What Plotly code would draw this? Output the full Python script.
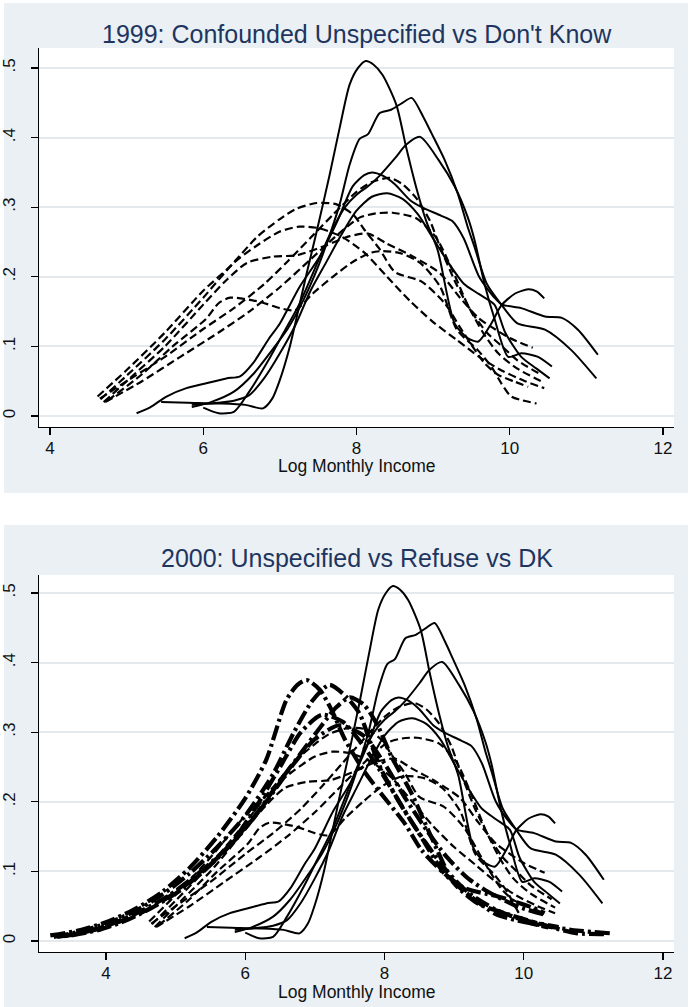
import plotly.graph_objects as go

# ---------------- data ----------------
# Unspecified (solid) density curves, shared by both panels
uns1_x = [5.45, 5.8, 6.2, 6.55, 6.78, 6.9, 7.0, 7.13, 7.24, 7.35, 7.48, 7.65, 7.78, 7.91, 8.02, 8.12, 8.22, 8.34, 8.52, 8.65, 8.78, 8.91, 9.06, 9.28, 9.45, 9.59, 9.76, 9.89, 10.07, 10.24, 10.35, 10.45]
uns1_y = [0.02, 0.019, 0.018, 0.016, 0.011, 0.025, 0.052, 0.1, 0.152, 0.205, 0.265, 0.347, 0.414, 0.476, 0.5, 0.51, 0.505, 0.49, 0.447, 0.385, 0.328, 0.28, 0.238, 0.133, 0.112, 0.107, 0.133, 0.159, 0.176, 0.182, 0.179, 0.169]
uns2_x = [5.85, 6.1, 6.4, 6.65, 6.9, 7.1, 7.3, 7.5, 7.65, 7.78, 7.91, 8.04, 8.15, 8.3, 8.45, 8.6, 8.72, 8.87, 8.98, 9.15, 9.32, 9.45, 9.54, 9.7, 9.89, 10.1, 10.46, 10.8, 11.13]
uns2_y = [0.013, 0.02, 0.035, 0.06, 0.095, 0.125, 0.165, 0.215, 0.26, 0.304, 0.361, 0.398, 0.405, 0.435, 0.44, 0.45, 0.457, 0.43, 0.406, 0.368, 0.32, 0.272, 0.243, 0.19, 0.16, 0.133, 0.124, 0.095, 0.054]
uns3_x = [6.0, 6.2, 6.4, 6.6, 6.85, 7.05, 7.25, 7.45, 7.65, 7.85, 8.0, 8.15, 8.3, 8.5, 8.65, 8.83, 9.07, 9.28, 9.45, 9.54, 9.67, 9.8, 9.98, 10.15, 10.37, 10.55]
uns3_y = [0.012, 0.004, 0.006, 0.035, 0.08, 0.12, 0.16, 0.21, 0.26, 0.3, 0.318, 0.33, 0.345, 0.37, 0.39, 0.401, 0.368, 0.33, 0.286, 0.253, 0.19, 0.14, 0.085, 0.09, 0.085, 0.071]
uns4_x = [5.13, 5.3, 5.52, 5.78, 6.04, 6.3, 6.48, 6.65, 6.85, 7.0, 7.26, 7.52, 7.75, 7.95, 8.1, 8.2, 8.35, 8.5, 8.7, 8.85, 9.1, 9.25, 9.4, 9.6, 9.8, 9.9, 10.15, 10.46, 10.68, 10.89, 11.15]
uns4_y = [0.004, 0.012, 0.028, 0.04, 0.047, 0.054, 0.057, 0.076, 0.11, 0.133, 0.186, 0.229, 0.28, 0.33, 0.346, 0.35, 0.345, 0.333, 0.31, 0.3, 0.288, 0.28, 0.255, 0.2, 0.17, 0.16, 0.155, 0.143, 0.141, 0.124, 0.088]
uns5_x = [5.85, 6.1, 6.4, 6.6, 6.8, 7.0, 7.2, 7.4, 7.6, 7.8, 8.0, 8.2, 8.4, 8.6, 8.8, 9.0, 9.2, 9.4, 9.6, 9.8, 9.94, 10.15, 10.35, 10.52]
uns5_y = [0.016, 0.018, 0.022, 0.03, 0.055, 0.09, 0.13, 0.18, 0.22, 0.26, 0.295, 0.315, 0.32, 0.312, 0.29, 0.255, 0.22, 0.19, 0.175, 0.16, 0.12, 0.085, 0.068, 0.054]

# Don't Know (dashed) density curves, shared by both panels
dk1_x = [4.62, 5.0, 5.5, 6.0, 6.35, 6.7, 7.0, 7.2, 7.48, 7.74, 7.96, 8.1, 8.3, 8.5, 8.85, 9.15, 9.37, 9.67, 9.85, 10.05, 10.24]
dk1_y = [0.028, 0.066, 0.12, 0.18, 0.215, 0.257, 0.283, 0.297, 0.306, 0.304, 0.289, 0.268, 0.24, 0.207, 0.193, 0.162, 0.124, 0.076, 0.059, 0.05, 0.042]
dk2_x = [4.7, 5.1, 5.5, 6.0, 6.3, 6.57, 6.91, 7.22, 7.6, 7.9, 8.15, 8.39, 8.74, 9.09, 9.35, 9.6, 9.76, 10.0, 10.3]
dk2_y = [0.02, 0.06, 0.1, 0.16, 0.195, 0.22, 0.229, 0.231, 0.245, 0.258, 0.262, 0.248, 0.229, 0.205, 0.17, 0.14, 0.128, 0.112, 0.098]
dk3_x = [4.75, 5.2, 5.6, 6.04, 6.2, 6.35, 6.74, 7.0, 7.2, 7.43, 7.69, 7.96, 8.2, 8.35, 8.57, 8.83, 9.09, 9.31, 9.58, 9.76, 9.89, 10.02, 10.35]
dk3_y = [0.022, 0.06, 0.1, 0.14, 0.162, 0.17, 0.164, 0.155, 0.152, 0.176, 0.2, 0.222, 0.235, 0.237, 0.234, 0.22, 0.186, 0.124, 0.095, 0.071, 0.047, 0.028, 0.018]
dk4_x = [4.65, 5.0, 5.5, 6.0, 6.4, 6.8, 7.1, 7.4, 7.7, 8.0, 8.2, 8.43, 8.6, 8.78, 8.96, 9.09, 9.3, 9.5, 9.7, 9.9, 10.1, 10.4]
dk4_y = [0.025, 0.05, 0.085, 0.125, 0.155, 0.19, 0.222, 0.256, 0.29, 0.322, 0.336, 0.342, 0.333, 0.313, 0.28, 0.243, 0.19, 0.15, 0.12, 0.1, 0.08, 0.06]
dk5_x = [4.72, 5.2, 5.7, 6.2, 6.6, 7.0, 7.4, 7.8, 8.04, 8.25, 8.47, 8.78, 9.04, 9.25, 9.45, 9.65, 9.85, 10.1, 10.45]
dk5_y = [0.02, 0.05, 0.085, 0.12, 0.15, 0.185, 0.225, 0.265, 0.285, 0.291, 0.292, 0.284, 0.256, 0.21, 0.16, 0.12, 0.09, 0.068, 0.048]
dk6_x = [4.66, 5.0, 5.5, 6.0, 6.4, 6.7, 7.0, 7.25, 7.5, 7.8, 8.1, 8.4, 8.7, 9.0, 9.3, 9.6, 9.9, 10.2, 10.45]
dk6_y = [0.024, 0.058, 0.11, 0.17, 0.22, 0.245, 0.265, 0.272, 0.27, 0.258, 0.235, 0.2, 0.165, 0.135, 0.11, 0.085, 0.065, 0.05, 0.04]

# Refuse (thick dash-dot) density curves, 2000 panel only
ref1_x = [3.2, 3.6, 4.0, 4.4, 4.8, 5.2, 5.6, 6.0, 6.3, 6.59, 6.75, 6.88, 7.07, 7.25, 7.43, 7.7, 7.91, 8.29, 8.53, 8.86, 9.15, 9.63, 10.1, 10.3]
ref1_y = [0.008, 0.015, 0.027, 0.045, 0.07, 0.105, 0.15, 0.205, 0.26, 0.346, 0.368, 0.375, 0.361, 0.33, 0.29, 0.245, 0.217, 0.169, 0.131, 0.097, 0.076, 0.064, 0.049, 0.04]
ref2_x = [3.25, 3.6, 4.0, 4.4, 4.8, 5.2, 5.6, 6.0, 6.4, 6.7, 6.97, 7.21, 7.45, 7.64, 7.8, 7.96, 8.2, 8.53, 8.86, 9.25, 9.59, 9.92, 10.3, 10.77, 11.26]
ref2_y = [0.006, 0.013, 0.025, 0.042, 0.066, 0.097, 0.135, 0.18, 0.24, 0.3, 0.346, 0.368, 0.351, 0.327, 0.285, 0.245, 0.202, 0.149, 0.097, 0.063, 0.039, 0.029, 0.022, 0.015, 0.011]
ref3_x = [3.3, 3.7, 4.1, 4.5, 4.9, 5.3, 5.7, 6.1, 6.5, 6.8, 7.1, 7.3, 7.5, 7.7, 7.9, 8.1, 8.39, 8.67, 9.0, 9.34, 9.82, 10.39, 10.77, 11.2]
ref3_y = [0.006, 0.013, 0.025, 0.043, 0.065, 0.095, 0.13, 0.175, 0.23, 0.27, 0.31, 0.335, 0.35, 0.34, 0.31, 0.265, 0.212, 0.15, 0.083, 0.054, 0.037, 0.02, 0.011, 0.01]
ref4_x = [3.4, 3.8, 4.2, 4.6, 5.0, 5.4, 5.8, 6.2, 6.5, 6.8, 7.1, 7.4, 7.7, 8.0, 8.3, 8.6, 8.9, 9.2, 9.6, 10.0, 10.5]
ref4_y = [0.007, 0.015, 0.028, 0.045, 0.07, 0.1, 0.14, 0.2, 0.25, 0.3, 0.325, 0.315, 0.28, 0.235, 0.185, 0.14, 0.1, 0.07, 0.045, 0.03, 0.02]
ref5_x = [3.5, 3.9, 4.3, 4.7, 5.1, 5.5, 5.9, 6.3, 6.7, 7.0, 7.35, 7.7, 8.0, 8.3, 8.6, 8.9, 9.2, 9.5, 9.9, 10.3]
ref5_y = [0.008, 0.016, 0.03, 0.05, 0.075, 0.11, 0.15, 0.2, 0.255, 0.29, 0.31, 0.295, 0.255, 0.205, 0.16, 0.12, 0.09, 0.07, 0.05, 0.038]

x_ticks = [4, 6, 8, 10, 12]
y_ticks = [0, 0.1, 0.2, 0.3, 0.4, 0.5]
y_tick_text = ["0", ".1", ".2", ".3", ".4", ".5"]
title_1999 = "1999: Confounded Unspecified vs Don't Know"
title_2000 = "2000: Unspecified vs Refuse vs DK"
x_title = "Log Monthly Income"

# ---------------- styling ----------------
FONT = "Liberation Sans, Arial, Helvetica, sans-serif"
BG = "#EAF0F3"
TITLE_COLOR = "#1E3560"
GRID = "#E3E9EC"

unspecified = [(uns1_x, uns1_y), (uns2_x, uns2_y), (uns3_x, uns3_y), (uns4_x, uns4_y), (uns5_x, uns5_y)]
dontknow = [(dk1_x, dk1_y), (dk2_x, dk2_y), (dk3_x, dk3_y), (dk4_x, dk4_y), (dk5_x, dk5_y), (dk6_x, dk6_y)]
refuse = [(ref1_x, ref1_y), (ref2_x, ref2_y), (ref3_x, ref3_y), (ref4_x, ref4_y), (ref5_x, ref5_y)]

solid_line = dict(color="black", width=2, shape="spline", smoothing=0.7)
dash_line = dict(color="black", width=2.2, dash="8px,4px", shape="spline", smoothing=0.7)
dashdot_line = dict(color="black", width=4.2, dash="15px,4px,3px,4px", shape="spline", smoothing=0.7)

fig = go.Figure()


def add_group(curves, line, xa, ya):
    for cx, cy in curves:
        fig.add_trace(go.Scatter(x=cx, y=cy, mode="lines", line=line,
                                 xaxis=xa, yaxis=ya, hoverinfo="skip",
                                 showlegend=False))


add_group(unspecified, solid_line, "x", "y")
add_group(dontknow, dash_line, "x", "y")
add_group(unspecified, solid_line, "x2", "y2")
add_group(dontknow, dash_line, "x2", "y2")
add_group(refuse, dashdot_line, "x2", "y2")

W, H = 691, 1007
ML, MR, MT, MB = 39, 17, 48, 55
PW, PH = W - ML - MR, H - MT - MB


def px2paper_x(px):
    return (px - ML) / PW


def px2paper_y(py):
    return (H - MB - py) / PH


top_dom = [px2paper_y(427), 1.0]
bot_dom = [0.0, px2paper_y(575)]

axis_common = dict(showline=True, linecolor="black", linewidth=1.3,
                   ticks="outside", ticklen=7, tickwidth=1.3, tickcolor="black",
                   zeroline=False, automargin=False,
                   tickfont=dict(family=FONT, size=17, color="#111"))

xcommon = dict(axis_common, tickvals=x_ticks, showgrid=False, ticklabelstandoff=-2)
ycommon = dict(axis_common, tickvals=y_ticks, ticktext=y_tick_text, tickangle=-90,
               showgrid=True, gridcolor=GRID, gridwidth=2, ticklabelstandoff=9)

shapes = [
    dict(type="rect", xref="paper", yref="paper", layer="below",
         x0=px2paper_x(4), x1=px2paper_x(688), y0=px2paper_y(493), y1=px2paper_y(3),
         fillcolor=BG, line=dict(width=0)),
    dict(type="rect", xref="paper", yref="paper", layer="below",
         x0=px2paper_x(4), x1=px2paper_x(688), y0=px2paper_y(1010), y1=px2paper_y(525),
         fillcolor=BG, line=dict(width=0)),
    dict(type="rect", xref="paper", yref="paper", layer="below",
         x0=0, x1=1, y0=top_dom[0], y1=top_dom[1],
         fillcolor="white", line=dict(width=0)),
    dict(type="rect", xref="paper", yref="paper", layer="below",
         x0=0, x1=1, y0=bot_dom[0], y1=bot_dom[1],
         fillcolor="white", line=dict(width=0)),
]

annotations = [
    dict(text=title_1999, xref="paper", yref="paper", x=0.5, y=px2paper_y(34),
         xanchor="center", yanchor="middle", showarrow=False,
         font=dict(family=FONT, size=25, color=TITLE_COLOR)),
    dict(text=title_2000, xref="paper", yref="paper", x=0.5, y=px2paper_y(558),
         xanchor="center", yanchor="middle", showarrow=False,
         font=dict(family=FONT, size=25, color=TITLE_COLOR)),
    dict(text=x_title, xref="paper", yref="paper", x=0.5, y=px2paper_y(466),
         xanchor="center", yanchor="middle", showarrow=False,
         font=dict(family=FONT, size=17.5, color="#111")),
    dict(text=x_title, xref="paper", yref="paper", x=0.5, y=px2paper_y(992),
         xanchor="center", yanchor="middle", showarrow=False,
         font=dict(family=FONT, size=17.5, color="#111")),
]

fig.update_layout(
    width=W, height=H, autosize=False,
    margin=dict(l=ML, r=MR, t=MT, b=MB, pad=0, autoexpand=False),
    paper_bgcolor="white", plot_bgcolor="white",
    showlegend=False,
    font=dict(family=FONT),
    xaxis=dict(xcommon, domain=[0, 1], anchor="y", range=[3.856, 12.1436]),
    yaxis=dict(ycommon, domain=top_dom, anchor="x", range=[-0.0158, 0.5287]),
    xaxis2=dict(xcommon, domain=[0, 1], anchor="y2", range=[3.038, 12.158]),
    yaxis2=dict(ycommon, domain=bot_dom, anchor="x2", range=[-0.0158, 0.5259]),
    shapes=shapes,
    annotations=annotations,
)

fig.write_html("out.html", config={"displayModeBar": False, "staticPlot": True},
               post_script="document.body.style.margin='0';document.body.style.overflow='hidden';")
